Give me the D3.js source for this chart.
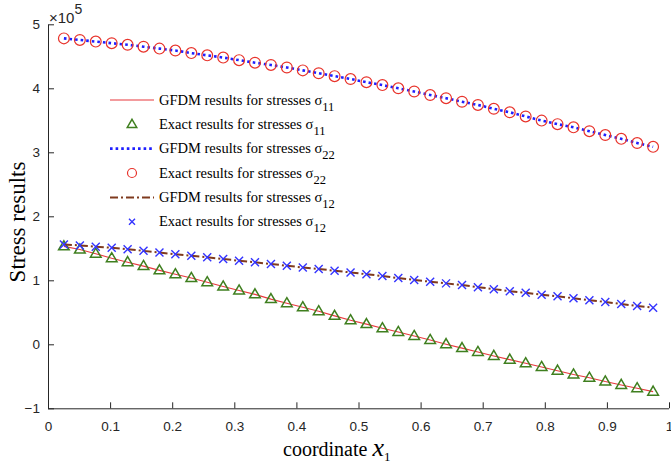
<!DOCTYPE html>
<html><head><meta charset="utf-8">
<script src="https://cdn.jsdelivr.net/npm/d3@7"></script>
<style>body{margin:0;background:#fff}svg{display:block}
.serif{font-family:"Liberation Serif","Times New Roman",serif}
.sans{font-family:"Liberation Sans",Arial,sans-serif}
</style>
</head><body><svg id="c" width="671" height="470"></svg>
<script>
const xValues = [0.0256,0.0513,0.0769,0.1026,0.1282,0.1538,0.1795,0.2051,0.2308,0.2564,0.2821,0.3077,0.3333,0.3590,0.3846,0.4103,0.4359,0.4615,0.4872,0.5128,0.5385,0.5641,0.5897,0.6154,0.6410,0.6667,0.6923,0.7179,0.7436,0.7692,0.7949,0.8205,0.8462,0.8718,0.8974,0.9231,0.9487,0.9744];
const sigma11 = [1.53,1.48,1.415,1.345,1.283,1.222,1.155,1.094,1.035,0.97,0.902,0.84,0.78,0.706,0.642,0.578,0.516,0.444,0.375,0.315,0.25,0.192,0.13,0.067,0.002,-0.06,-0.12,-0.182,-0.24,-0.297,-0.355,-0.412,-0.472,-0.522,-0.582,-0.635,-0.687,-0.74];
const sigma22 = [4.78,4.755,4.73,4.705,4.68,4.65,4.62,4.59,4.55,4.515,4.48,4.44,4.40,4.365,4.325,4.28,4.235,4.19,4.145,4.095,4.05,4.0,3.95,3.895,3.845,3.79,3.74,3.68,3.625,3.56,3.495,3.44,3.39,3.33,3.27,3.21,3.145,3.085];
const sigma12 = [1.56,1.545,1.525,1.508,1.485,1.46,1.433,1.408,1.384,1.359,1.333,1.306,1.281,1.255,1.228,1.2,1.176,1.15,1.123,1.095,1.067,1.035,1.005,0.978,0.952,0.925,0.893,0.862,0.83,0.805,0.775,0.749,0.719,0.689,0.661,0.63,0.599,0.572];
const xTicks = [0,0.1,0.2,0.3,0.4,0.5,0.6,0.7,0.8,0.9,1];
const yTicks = [-1,0,1,2,3,4,5];
const legendLabels = [["GFDM results for stresses σ","11"],["Exact results for stresses σ","11"],["GFDM results for stresses σ","22"],["Exact results for stresses σ","22"],["GFDM results for stresses σ","12"],["Exact results for stresses σ","12"]];

const svg = d3.select("#c");
const x = d3.scaleLinear().domain([0,1]).range([48,669]);
const y = d3.scaleLinear().domain([-1,5]).range([408.3,24.3]);
const axisColor = "#262626";

// axes
const gx = svg.append("g").attr("transform","translate(0,"+y(-1)+")")
  .call(d3.axisBottom(x).tickValues(xTicks).tickSizeInner(-6).tickSizeOuter(0).tickPadding(13).tickFormat(d3.format("")));
const gy = svg.append("g").attr("transform","translate("+x(0)+",0)")
  .call(d3.axisLeft(y).tickValues(yTicks).tickSizeInner(-6).tickSizeOuter(0).tickPadding(8).tickFormat(d3.format("")));
[gx,gy].forEach(g=>{
  g.attr("font-family",null).attr("font-size",null);
  g.select(".domain").attr("stroke",axisColor).attr("stroke-width",1);
  g.selectAll(".tick line").attr("stroke",axisColor);
  g.selectAll(".tick text").attr("class","sans").attr("fill",axisColor).style("font-size","13.5px");
});
gx.select(".domain").attr("d","M"+x(0)+",0.5H"+x(1));

// exponent
const ex = svg.append("text").attr("class","sans").attr("x",49).attr("y",23).attr("fill",axisColor).style("font-size","15px");
ex.append("tspan").text("×10");
ex.append("tspan").attr("dy",-9).style("font-size","14px").text("5");

// axis labels
const xl = svg.append("text").attr("class","serif").attr("x",283).attr("y",456).attr("fill","#000").style("font-size","20px");
xl.append("tspan").text("coordinate ");
xl.append("tspan").style("font-style","italic").style("font-size","26px").text("x");
xl.append("tspan").attr("dy",5).style("font-size","13px").text("1");

svg.append("text").attr("class","serif").attr("transform","translate(25,222) rotate(-90)").attr("text-anchor","middle")
  .style("font-size","23px").text("Stress results");

const lineGen = vals => d3.line().x((d,i)=>x(xValues[i])).y(d=>y(d))(vals);

const red = "#e8383d", green = "#3f7f1f", blue = "#1f1fff", circRed = "#e8332b", brown = "#7f3a1e", xBlue = "#3333ff";
const triPath = s => `M0,${-s}L${s*0.95},${s*0.62}L${-s*0.95},${s*0.62}Z`;
const crossPath = s => `M${-s},${-s}L${s},${s}M${-s},${s}L${s},${-s}`;

// sigma11
svg.append("path").attr("d",lineGen(sigma11)).attr("fill","none").attr("stroke",red).attr("stroke-width",1.1);
svg.append("g").selectAll("path").data(sigma11).join("path")
  .attr("transform",(d,i)=>`translate(${x(xValues[i])},${y(d)})`).attr("d",triPath(5.6))
  .attr("fill","none").attr("stroke",green).attr("stroke-width",1.5);
// sigma22
svg.append("path").attr("d",lineGen(sigma22)).attr("fill","none").attr("stroke",blue).attr("stroke-width",2.6).attr("stroke-dasharray","2.6,3");
svg.append("g").selectAll("circle").data(sigma22).join("circle")
  .attr("cx",(d,i)=>x(xValues[i])).attr("cy",d=>y(d)).attr("r",5.4)
  .attr("fill","none").attr("stroke",circRed).attr("stroke-width",1.2);
// sigma12
svg.append("path").attr("d",lineGen(sigma12)).attr("fill","none").attr("stroke",brown).attr("stroke-width",2).attr("stroke-dasharray","8,3,2,3");
svg.append("g").selectAll("path").data(sigma12).join("path")
  .attr("transform",(d,i)=>`translate(${x(xValues[i])},${y(d)})`).attr("d",crossPath(4))
  .attr("fill","none").attr("stroke",xBlue).attr("stroke-width",1.4);

// legend
const rows = [100,124.3,148.6,173,197.4,221.7];
const lg = svg.append("g");
function sample(i){
  const cy = rows[i];
  if(i===0) lg.append("line").attr("x1",110).attr("x2",154).attr("y1",cy).attr("y2",cy).attr("stroke",red).attr("stroke-width",1.1);
  if(i===1) lg.append("path").attr("transform",`translate(132,${cy})`).attr("d",triPath(5)).attr("fill","none").attr("stroke",green).attr("stroke-width",1.5);
  if(i===2) lg.append("line").attr("x1",110).attr("x2",154).attr("y1",cy).attr("y2",cy).attr("stroke",blue).attr("stroke-width",2.6).attr("stroke-dasharray","2.6,3");
  if(i===3) lg.append("circle").attr("cx",132).attr("cy",cy).attr("r",4.5).attr("fill","none").attr("stroke",circRed).attr("stroke-width",1.2);
  if(i===4) lg.append("line").attr("x1",110).attr("x2",154).attr("y1",cy).attr("y2",cy).attr("stroke",brown).attr("stroke-width",2).attr("stroke-dasharray","8,3,2,3");
  if(i===5) lg.append("path").attr("transform",`translate(132,${cy})`).attr("d",crossPath(3)).attr("fill","none").attr("stroke",xBlue).attr("stroke-width",1.4);
}
legendLabels.forEach((lab,i)=>{
  sample(i);
  const t = lg.append("text").attr("class","serif").attr("x",159).attr("y",rows[i]+4.5).attr("fill","#000").style("font-size","14.5px");
  t.append("tspan").text(lab[0]);
  t.append("tspan").attr("dy",6).style("font-size","12.5px").text(lab[1]);
});
</script></body></html>
